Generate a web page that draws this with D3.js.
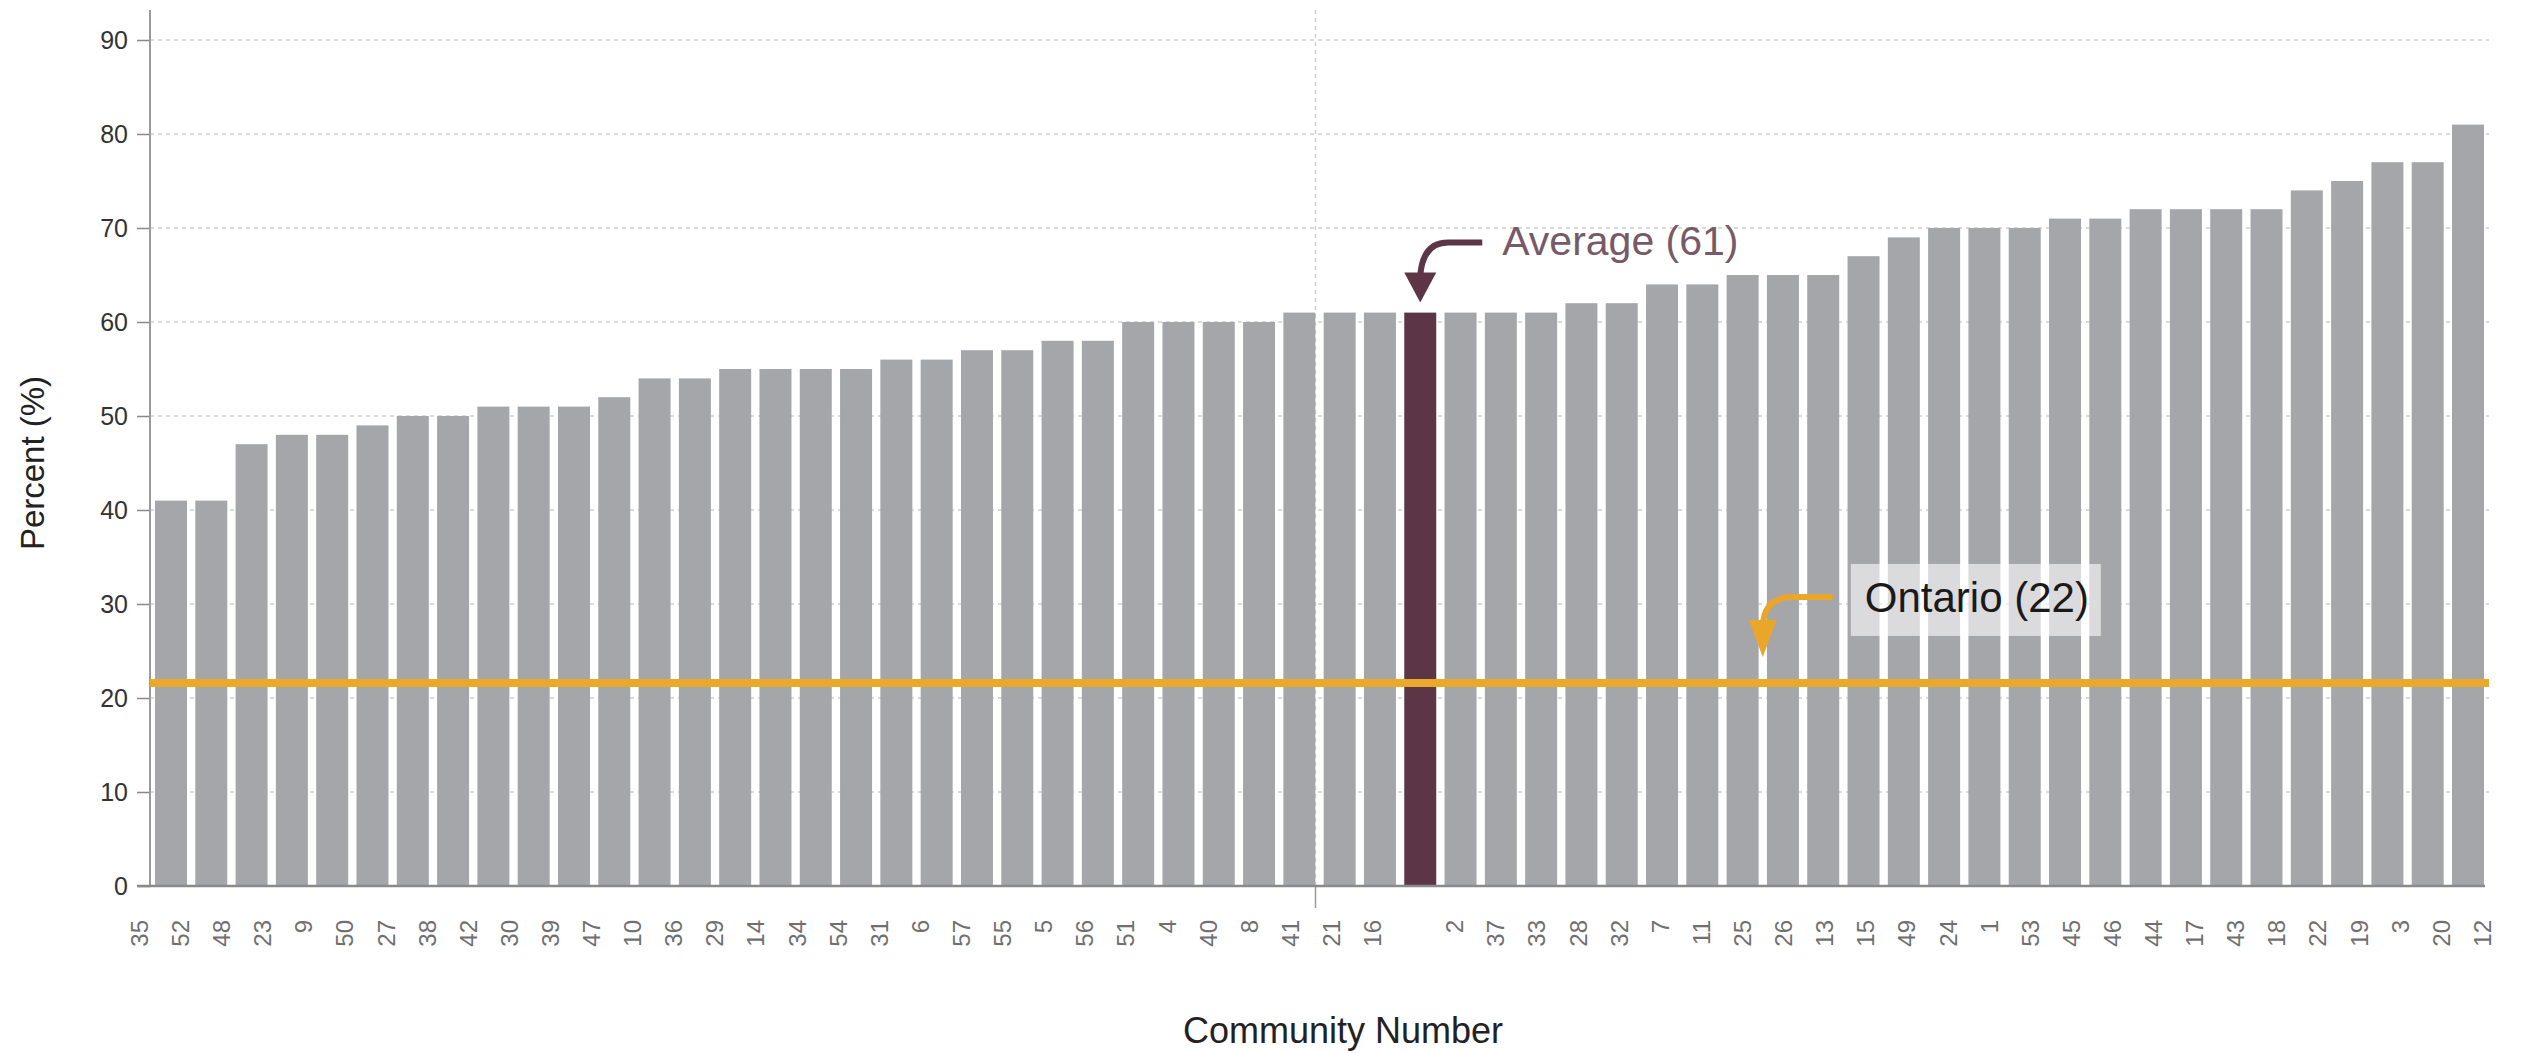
<!DOCTYPE html>
<html>
<head>
<meta charset="utf-8">
<script src="https://d3js.org/d3.v7.min.js"></script>
<style>
  html, body { margin: 0; padding: 0; background: #fff; }
  svg { display: block; font-family: "Liberation Sans", Arial, sans-serif; }
</style>
</head>
<body>
<svg id="chart" width="2521" height="1053"></svg>
<script>
// ---- data ----
const communities = ["35","52","48","23","9","50","27","38","42","30","39","47","10","36","29","14","34","54","31","6","57","55","5","56","51","4","40","8","41","21","16","Average","2","37","33","28","32","7","11","25","26","13","15","49","24","1","53","45","46","44","17","43","18","22","19","3","20","12"];
const percents = [41,41,47,48,48,49,50,50,51,51,51,52,54,54,55,55,55,55,56,56,57,57,58,58,60,60,60,60,61,61,61,61,61,61,61,62,62,64,64,65,65,65,67,69,70,70,70,71,71,72,72,72,72,74,75,77,77,81];
const yTicks = [0,10,20,30,40,50,60,70,80,90];
const averageLabel = "Average";
const averageValue = 61;
const ontarioValue = 21.6;
const ontarioLabel = "Ontario (22)";
const yTitle = "Percent (%)";
const xTitle = "Community Number";

// ---- layout ----
const svg = d3.select("#chart");
const plotLeft = 150, plotRight = 2489, plotTop = 40, plotBottom = 886;

const x = d3.scaleBand().domain(communities).range([plotLeft, plotRight]).paddingInner(0.206).paddingOuter(0.124);
const xLab = d3.scalePoint().domain(communities).range([139, 2482]);
const y = d3.scaleLinear().domain([0, 90]).range([plotBottom, plotTop]);

const gridColor = "#cfcfcf";

// horizontal gridlines
svg.append("g").selectAll("line").data(yTicks.filter(d => d > 0)).join("line")
  .attr("x1", plotLeft).attr("x2", plotRight)
  .attr("y1", d => y(d)).attr("y2", d => y(d))
  .attr("stroke", gridColor).attr("stroke-width", 1.5).attr("stroke-dasharray", "4,4");

// vertical center dashed line
const midX = (xLab.range()[0] + xLab.range()[1]) / 2 + 5;
svg.append("line").attr("x1", midX).attr("x2", midX).attr("y1", 10).attr("y2", plotBottom)
  .attr("stroke", gridColor).attr("stroke-width", 1.5).attr("stroke-dasharray", "4,4");
svg.append("line").attr("x1", midX).attr("x2", midX).attr("y1", plotBottom).attr("y2", plotBottom + 22)
  .attr("stroke", "#999").attr("stroke-width", 1.5);

// bars
svg.append("g").selectAll("rect").data(communities).join("rect")
  .attr("x", d => x(d))
  .attr("width", x.bandwidth())
  .attr("y", (d, i) => y(percents[i]))
  .attr("height", (d, i) => y(0) - y(percents[i]))
  .attr("fill", d => d === averageLabel ? "#5c3646" : "#a5a6aa");

// y axis
const yAxis = d3.axisLeft(y).tickValues(yTicks).tickSize(13).tickPadding(9);
const gy = svg.append("g").attr("transform", `translate(${plotLeft},0)`).call(yAxis);
gy.select(".domain").remove();
gy.selectAll(".tick line").attr("stroke", "#888").attr("stroke-width", 1.5);
gy.selectAll(".tick text").attr("font-size", 25).attr("fill", "#333")
  .attr("font-family", "Liberation Sans, Arial, sans-serif");
svg.append("line").attr("x1", plotLeft).attr("x2", plotLeft).attr("y1", 10).attr("y2", plotBottom)
  .attr("stroke", "#9a9a9a").attr("stroke-width", 2);

// x axis baseline
svg.append("line").attr("x1", plotLeft - 13).attr("x2", plotRight - 4).attr("y1", plotBottom).attr("y2", plotBottom)
  .attr("stroke", "#8a8a8a").attr("stroke-width", 2.5);

// x tick labels (separate evenly spaced label scale)
const xAxis = d3.axisBottom(xLab).tickSize(0).tickPadding(0)
  .tickFormat(d => d === averageLabel ? "" : d);
const gx = svg.append("g").attr("transform", `translate(0,${plotBottom})`).call(xAxis);
gx.select(".domain").remove();
gx.selectAll(".tick text")
  .attr("font-size", 24).attr("fill", "#6f6f6f")
  .attr("font-family", "Liberation Sans, Arial, sans-serif")
  .attr("text-anchor", "end")
  .attr("transform", "translate(0,34) rotate(-90)")
  .attr("x", 0).attr("y", 0).attr("dy", "0.35em");

// Ontario line
svg.append("line").attr("x1", plotLeft).attr("x2", plotRight)
  .attr("y1", y(ontarioValue)).attr("y2", y(ontarioValue))
  .attr("stroke", "#eaa92b").attr("stroke-width", 8);

// Ontario annotation
const oTipX = x(communities[40]) - (x.step() - x.bandwidth()) / 2;
const oTipY = y(ontarioValue) - 26;
const oc = "#e9a62a";
svg.append("path")
  .attr("d", `M${oTipX + 70},${oTipY - 60} L${oTipX + 30},${oTipY - 60} Q${oTipX + 2},${oTipY - 60} ${oTipX},${oTipY - 32}`)
  .attr("fill", "none").attr("stroke", oc).attr("stroke-width", 6);
svg.append("path")
  .attr("d", `M${oTipX - 14},${oTipY - 37} L${oTipX + 14},${oTipY - 37} L${oTipX},${oTipY} Z`)
  .attr("fill", oc);
const boxX = oTipX + 88, boxY = oTipY - 93;
svg.append("rect").attr("x", boxX).attr("y", boxY).attr("width", 250).attr("height", 72)
  .attr("fill", "#fff").attr("fill-opacity", 0.6);
svg.append("text").attr("x", boxX + 14).attr("y", boxY + 48)
  .attr("font-size", 42).attr("fill", "#1a1a1a").text(ontarioLabel);

// Average annotation
const aTipX = x(averageLabel) + x.bandwidth() / 2;
const aTipY = y(averageValue) - 10;
const ac = "#5c3646";
svg.append("path")
  .attr("d", `M${aTipX + 62},${aTipY - 60} L${aTipX + 28},${aTipY - 60} Q${aTipX + 2},${aTipY - 60} ${aTipX},${aTipY - 26}`)
  .attr("fill", "none").attr("stroke", ac).attr("stroke-width", 6);
svg.append("path")
  .attr("d", `M${aTipX - 16},${aTipY - 30} L${aTipX + 16},${aTipY - 30} L${aTipX},${aTipY} Z`)
  .attr("fill", ac);
svg.append("text").attr("x", aTipX + 82).attr("y", aTipY - 48)
  .attr("font-size", 41).attr("fill", "#775a68").text(`${averageLabel} (${averageValue})`);

// axis titles
svg.append("text")
  .attr("transform", `translate(${44},${(plotTop + plotBottom) / 2}) rotate(-90)`)
  .attr("text-anchor", "middle").attr("font-size", 33).attr("fill", "#222").text(yTitle);
svg.append("text")
  .attr("x", 1343).attr("y", 1043)
  .attr("text-anchor", "middle").attr("font-size", 36).attr("fill", "#222").text(xTitle);
</script>
</body>
</html>
